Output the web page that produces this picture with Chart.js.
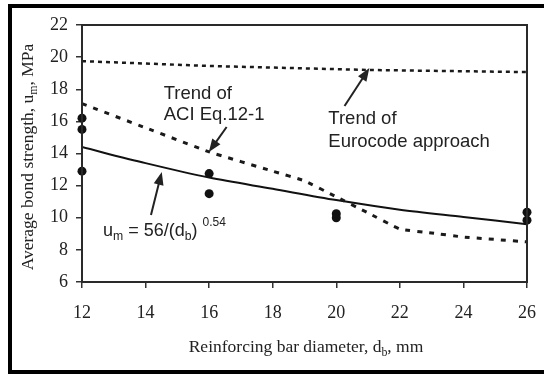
<!DOCTYPE html>
<html>
<head>
<meta charset="utf-8">
<script src="https://cdn.jsdelivr.net/npm/chart.js@4.4.0/dist/chart.umd.min.js"></script>
<style>
  html, body { margin: 0; padding: 0; background: #fff; }
  #wrap { width: 544px; height: 374px; }
</style>
</head>
<body>
<div id="wrap"><canvas id="bondChart" width="544" height="374"></canvas></div>
<script>
// measured bond strength (MPa) vs bar diameter (mm)
var testDiam = [12, 12, 12, 16, 16, 20, 20, 26, 26];
var testBond = [16.2, 15.5, 12.9, 12.75, 11.5, 10.25, 10.0, 10.35, 9.85];

// fitted power curve
var fitDiam = [12, 14, 16, 18, 20, 22, 24, 26];
var fitBond = [14.4, 13.4, 12.5, 11.8, 11.1, 10.5, 10.05, 9.6];

// trend of ACI Eq.12-1
var aciDiam = [12, 14, 16, 18, 19, 20, 21, 22, 23, 24, 26];
var aciBond = [17.1, 15.6, 14.1, 12.9, 12.3, 11.3, 10.3, 9.3, 9.05, 8.8, 8.5];

// trend of Eurocode approach
var euroDiam = [12, 16, 21, 26];
var euroBond = [19.75, 19.45, 19.2, 19.07];

var xTicks = [12, 14, 16, 18, 20, 22, 24, 26];
var yTicks = [6, 8, 10, 12, 14, 16, 18, 20, 22];

function pts(xs, ys) {
  return xs.map(function (x, i) { return { x: x, y: ys[i] }; });
}

var SERIF = "'Liberation Serif', 'Times New Roman', serif";
var SANS = "'Liberation Sans', Arial, sans-serif";

// draws text made of normal / sub / sup pieces, centred on x
function richText(ctx, parts, x, y, size, family) {
  var w = 0;
  parts.forEach(function (p) {
    ctx.font = (p.sub || p.sup ? size * 0.68 : size) + "px " + family;
    p.w = ctx.measureText(p.t).width;
    w += p.w;
  });
  var cx = x - w / 2;
  ctx.textAlign = "left";
  ctx.textBaseline = "alphabetic";
  parts.forEach(function (p) {
    ctx.font = (p.sub || p.sup ? size * 0.68 : size) + "px " + family;
    var dy = p.sub ? size * 0.22 : (p.sup ? -size * 0.45 : 0);
    ctx.fillText(p.t, cx, y + dy);
    cx += p.w;
  });
}

function arrow(ctx, x1, y1, x2, y2) {
  var a = Math.atan2(y2 - y1, x2 - x1);
  var hl = 13, hw = 5;
  ctx.beginPath();
  ctx.moveTo(x1, y1);
  ctx.lineTo(x2 - Math.cos(a) * hl * 0.8, y2 - Math.sin(a) * hl * 0.8);
  ctx.lineWidth = 2;
  ctx.stroke();
  ctx.beginPath();
  ctx.moveTo(x2, y2);
  ctx.lineTo(x2 - Math.cos(a) * hl - Math.sin(a) * hw, y2 - Math.sin(a) * hl + Math.cos(a) * hw);
  ctx.lineTo(x2 - Math.cos(a) * hl + Math.sin(a) * hw, y2 - Math.sin(a) * hl - Math.cos(a) * hw);
  ctx.closePath();
  ctx.fill();
}

// frame, plot box, axis titles and callouts
var decorPlugin = {
  id: "decor",
  beforeDraw: function (chart) {
    var ctx = chart.ctx;
    ctx.save();
    ctx.fillStyle = "#fff";
    ctx.fillRect(0, 0, chart.width, chart.height);
    ctx.fillStyle = "#000";
    ctx.fillRect(8, 4, chart.width - 8, 4);
    ctx.fillRect(8, 4, 4, chart.height - 4);
    ctx.fillRect(8, chart.height - 4, chart.width - 8, 4);
    ctx.restore();
  },
  afterDatasetsDraw: function (chart) {
    var ctx = chart.ctx, a = chart.chartArea;
    var sx = chart.scales.x, sy = chart.scales.y;
    function px(v) { return sx.getPixelForValue(v); }
    function py(v) { return sy.getPixelForValue(v); }
    ctx.save();
    ctx.strokeStyle = "#2a2a2a";
    ctx.lineWidth = 2;
    ctx.strokeRect(a.left, a.top, a.right - a.left, a.bottom - a.top);

    ctx.fillStyle = "#222";
    ctx.strokeStyle = "#222";
    // axis titles
    richText(ctx, [{ t: "Reinforcing bar diameter, d" }, { t: "b", sub: true }, { t: ", mm" }],
      306, 352, 17.5, SERIF);
    ctx.save();
    ctx.translate(33, 157);
    ctx.rotate(-Math.PI / 2);
    richText(ctx, [{ t: "Average bond strength, u" }, { t: "m", sub: true }, { t: ", MPa" }],
      0, 0, 17.5, SERIF);
    ctx.restore();

    // callouts
    ctx.font = "18.5px " + SANS;
    ctx.textAlign = "left";
    ctx.textBaseline = "alphabetic";
    ctx.fillText("Trend of", px(14.57), py(17.39));
    ctx.fillText("ACI Eq.12-1", px(14.57), py(16.09));
    arrow(ctx, px(16.55), py(15.65), px(15.99), py(14.09));

    ctx.fillText("Trend of", px(19.75), py(15.84));
    ctx.fillText("Eurocode approach", px(19.75), py(14.4));
    arrow(ctx, px(20.26), py(16.96), px(21.04), py(19.32));

    var ex = px(12.66), ey = py(8.86);
    var parts = [{ t: "u" }, { t: "m", sub: true }, { t: " = 56/(d" }, { t: "b", sub: true }, { t: ")" }];
    var w = 0;
    parts.forEach(function (p) {
      ctx.font = (p.sub ? 12.24 : 18) + "px " + SANS;
      w += ctx.measureText(p.t).width;
    });
    richText(ctx, parts, ex + w / 2, ey, 18, SANS);
    ctx.font = "12px " + SANS;
    ctx.fillText("0.54", ex + w + 5, ey - 10);
    arrow(ctx, px(14.17), py(10.17), px(14.51), py(12.85));
    ctx.restore();
  }
};

var ctx = document.getElementById("bondChart").getContext("2d");
var bondChart = new Chart(ctx, {
  type: "scatter",
  data: {
    datasets: [
      {
        label: "Eurocode",
        data: pts(euroDiam, euroBond),
        showLine: true,
        borderColor: "#1a1a1a",
        borderWidth: 2.5,
        borderDash: [4, 4],
        pointRadius: 0,
        tension: 0
      },
      {
        label: "ACI",
        data: pts(aciDiam, aciBond),
        showLine: true,
        borderColor: "#1a1a1a",
        borderWidth: 3,
        borderDash: [5, 7],
        pointRadius: 0,
        tension: 0.1
      },
      {
        label: "Fit",
        data: pts(fitDiam, fitBond),
        showLine: true,
        borderColor: "#111",
        borderWidth: 2,
        pointRadius: 0,
        tension: 0.3
      },
      {
        label: "Test",
        data: pts(testDiam, testBond),
        showLine: false,
        clip: false,
        pointRadius: 4.5,
        pointBackgroundColor: "#111",
        pointBorderWidth: 0
      }
    ]
  },
  options: {
    responsive: false,
    animation: false,
    layout: { padding: { left: 12, right: 17, top: 25, bottom: 52 } },
    plugins: {
      legend: { display: false },
      tooltip: { enabled: false }
    },
    scales: {
      x: {
        type: "linear",
        min: 12,
        max: 26,
        afterBuildTicks: function (s) { s.ticks = xTicks.map(function (v) { return { value: v }; }); },
        afterFit: function (s) { s.height = 40; s.paddingLeft = 0; s.paddingRight = 0; },
        grid: { drawOnChartArea: false, drawTicks: true, tickLength: 6, color: "#333", lineWidth: 1.5 },
        border: { display: false },
        ticks: { color: "#222", padding: 14, font: { family: SERIF, size: 18 } }
      },
      y: {
        type: "linear",
        min: 6,
        max: 22,
        afterBuildTicks: function (s) { s.ticks = yTicks.map(function (v) { return { value: v }; }); },
        afterFit: function (s) { s.width = 70; s.paddingTop = 0; s.paddingBottom = 0; },
        grid: { drawOnChartArea: false, drawTicks: true, tickLength: 6, color: "#333", lineWidth: 1.5 },
        border: { display: false },
        ticks: { color: "#222", padding: 8, font: { family: SERIF, size: 18 } }
      }
    }
  },
  plugins: [decorPlugin]
});
</script>
</body>
</html>
